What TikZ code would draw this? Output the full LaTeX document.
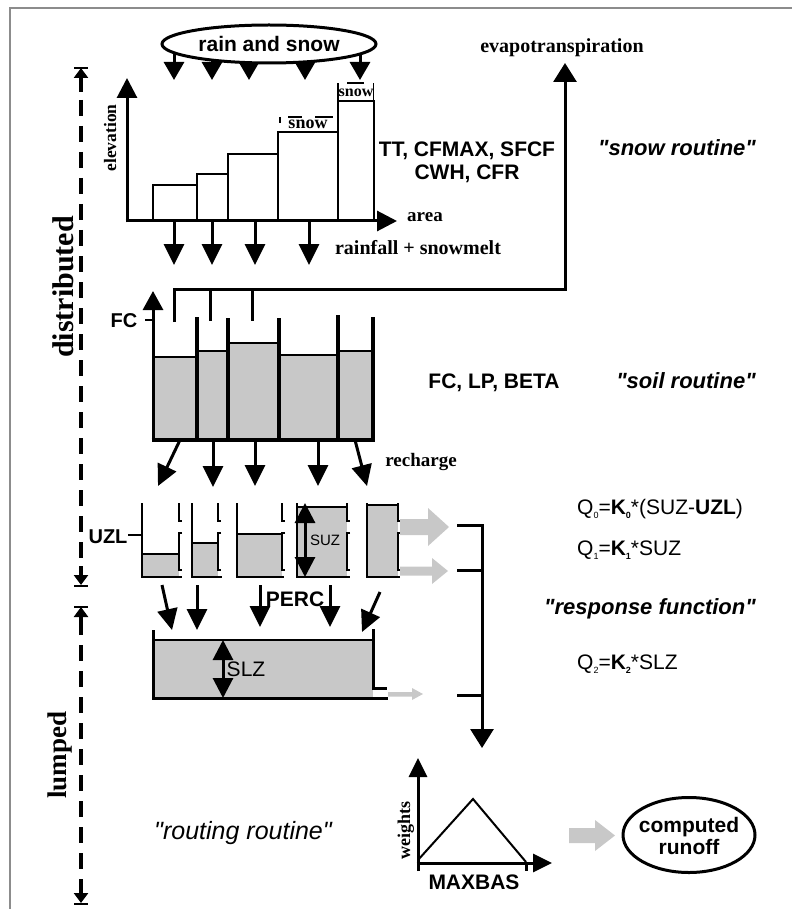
\documentclass[tikz,border=0pt]{standalone}
\usepackage{fontspec}
\setmainfont{Liberation Serif}
\setsansfont{Liberation Sans}[Ligatures=TeXOff]
\usetikzlibrary{arrows.meta,shapes.geometric}
\newcommand\fsz[1]{\fontsize{#1}{#1}\selectfont}
\newcommand\sbs[1]{\raisebox{-3.5pt}{\fsz{9}#1}}
\definecolor{lg}{RGB}{200,200,200}
\definecolor{framegray}{RGB}{140,140,140}
\begin{document}
\begin{tikzpicture}[x=1pt,y=-1pt,
  sb/.style={inner sep=0pt, text height=15pt, text depth=0pt, font=\sffamily\bfseries\fsz{21}},
  sr/.style={inner sep=0pt, text height=15pt, text depth=0pt, font=\sffamily\fsz{21}},
  sbi/.style={inner sep=0pt, text height=15.5pt, text depth=0pt, font=\sffamily\bfseries\itshape\fsz{22}},
  rb/.style={inner sep=0pt, text height=13.6pt, text depth=0pt, font=\rmfamily\bfseries\fsz{20}},
  bigarr/.style={line width=3pt, -{Triangle[width=20pt,length=21pt]}},
  dbl/.style={line width=3pt, {Triangle[width=20pt,length=20pt]}-{Triangle[width=20pt,length=20pt]}},
  thick3/.style={line width=3pt},
  wall/.style={line width=3.3pt},
  uwall/.style={line width=2.6pt},
  barline/.style={line width=1.5pt},
  dax/.style={line width=4.5pt, dash pattern=on 16pt off 10pt},
  smallarr/.style={line width=4pt, -{Triangle[width=14pt,length=10pt]}},
  ovl/.style={draw, line width=3pt, fill=white, ellipse, inner sep=0pt}
]
\useasboundingbox (0,0) rectangle (792,909);
% frame
\draw[framegray, line width=1.5pt] (10,909) -- (10,8) -- (792,8);

% ---------------- left dashed axis ----------------
\draw[line width=2pt] (74,68) -- (88,68);
\draw[smallarr] (81,92) -- (81,68);
\draw[dax] (81,100) -- (81,566);
\draw[smallarr] (81,566) -- (81,585);
\draw[line width=2pt] (74,586) -- (88,586);
\draw[line width=2pt] (74,607) -- (88,607);
\draw[smallarr] (81,635) -- (81,607);
\draw[dax] (81,645) -- (81,882);
\draw[smallarr] (81,882) -- (81,903);
\draw[line width=2pt] (74,904) -- (88,904);
\node[rb, font=\rmfamily\bfseries\fsz{30}, text height=20pt, rotate=90] (distr) at (63,287) {distributed};
\node[rb, font=\rmfamily\bfseries\fsz{27}, text height=18pt, rotate=90] (lump) at (57,755) {lumped};

% ---------------- snow routine ----------------
\foreach \x in {174,212,249,305,360}{
  \draw[line width=3pt, -{Triangle[width=20pt,length=18pt]}] (\x,44) -- (\x,80);
}
\node[ovl, minimum width=214pt, minimum height=38pt] (rs) at (269,44) {};
\node[sb] (rstxt) at (269,44) {rain and snow};

\draw[barline] (153,221) rectangle (197,185);
\draw[barline] (197,221) rectangle (228,174);
\draw[barline] (228,221) rectangle (278,154);
\draw[barline] (278,221) rectangle (338,132);
\draw[barline] (338,221) rectangle (374,101);
\draw[barline] (338,101) -- (338,83);
\draw[barline] (373.5,101) -- (373.5,83);
\draw[line width=1.2pt] (347,83) -- (364,83);
\draw[line width=1.2pt] (280,117) -- (280,123);
\draw[line width=1.2pt] (288,117) -- (302,117) (315,117) -- (333,117);
\node[inner sep=0pt, anchor=base, font=\rmfamily\bfseries\fsz{18}] (snow4) at (308,128.5) {snow};
\node[inner sep=0pt, anchor=base, font=\rmfamily\bfseries\fsz{16}] (snow5) at (356,97) {snow};

\draw[thick3, -{Triangle[width=20pt,length=20pt]}] (127,222.5) -- (127,78);
\draw[thick3, -{Triangle[width=20pt,length=20pt]}] (125.5,221) -- (397,221);
\node[rb, font=\rmfamily\bfseries\fsz{17.5}, text height=12pt, rotate=90] (elev) at (110,138) {elevation};
\node[rb, font=\rmfamily\bfseries\fsz{19}] (area) at (425,215) {area};

\node[sb] (par1) at (467,149.5) {TT, CFMAX, SFCF};
\node[sb] (par2) at (467,172.5) {CWH, CFR};
\node[sbi] (snowr) at (677,148) {"snow routine"};
\node[rb] (evap) at (562,46) {evapotranspiration};

\foreach \x in {174,212,255,309}{
  \draw[bigarr] (\x,221) -- (\x,265);
}
\node[rb] (rfsm) at (418,248) {rainfall + snowmelt};

% ---------------- soil routine ----------------
\fill[lg] (153,440) rectangle (197,357);
\fill[lg] (197,440) rectangle (228,351);
\fill[lg] (228,440) rectangle (279,343);
\fill[lg] (279,440) rectangle (338,355);
\fill[lg] (338,440) rectangle (373,351);
\draw[barline] (153,357) -- (197,357);
\draw[barline] (197,351) -- (228,351);
\draw[barline] (228,343) -- (279,343);
\draw[barline] (279,355) -- (338,355);
\draw[barline] (338,351) -- (373,351);
\draw[wall] (197,317) -- (197,440);
\draw[wall] (228,318) -- (228,440);
\draw[wall] (279,318) -- (279,440);
\draw[wall] (338,315) -- (338,440);
\draw[wall] (373,317) -- (373,441.6);
\draw[wall] (151.5,440) -- (374.6,440);
\draw[thick3, -{Triangle[width=20pt,length=19pt]}] (153,441.6) -- (153,291);
\draw[line width=2pt] (145,320) -- (153,320);
\node[sb, font=\sffamily\bfseries\fsz{20}, text height=14.3pt] (fc) at (124,320) {FC};

\draw[thick3, -{Triangle[width=23pt,length=19pt]}] (174,322) -- (174,289) -- (565,289) -- (565,63);
\draw[thick3] (210,289) -- (210,321);
\draw[thick3] (252,289) -- (252,321);

\node[sb] (fclp) at (494,381) {FC, LP, BETA};
\node[sbi] (soilr) at (686,381) {"soil routine"};

\draw[bigarr] (180,440) -- (158,486);
\draw[bigarr] (213,440) -- (213,487);
\draw[bigarr] (255,440) -- (255,486);
\draw[bigarr] (318,440) -- (318,486);
\draw[bigarr] (355,440) -- (367,486);
\node[rb, font=\rmfamily\bfseries\fsz{19}] (rech) at (421,460) {recharge};

% ---------------- upper zone boxes ----------------
\fill[lg] (142,577) rectangle (179,554);
\fill[lg] (192,577) rectangle (218,543);
\fill[lg] (237,577) rectangle (282,534);
\fill[lg] (297,577) rectangle (347,507);
\fill[lg] (367,577) rectangle (398,505);
\draw[line width=1.2pt] (142,554) -- (179,554);
\draw[line width=1.2pt] (192,543) -- (218,543);
\draw[line width=1.2pt] (237,534) -- (282,534);
\draw[line width=1.2pt] (297,507) -- (347,507);
\draw[line width=1.2pt] (367,505) -- (398,505);
\foreach \xl/\xr/\xb in {142/179/182, 192/218/222, 237/282/284, 297/347/350, 367/398/400}{
  \draw[uwall] (\xl,503) -- (\xl,577) -- (\xb,577);
  \draw[uwall] (\xr,503) -- (\xr,521) -- (\xr+3,521);
  \draw[uwall] (\xr+3,533) -- (\xr,533) -- (\xr,570) -- (\xr+3,570);
}
\draw[line width=2pt] (128,535) -- (142,535);
\node[sb, font=\sffamily\bfseries\fsz{20}, text height=14.3pt] (uzl) at (108,536) {UZL};
\draw[dbl] (305,503) -- (305,577);
\node[sr, font=\sffamily\fsz{15}, text height=10.8pt] (suz) at (325,540) {SUZ};

% gray outflow arrows
\fill[lg] (400,519) -- (428,519) -- (428,508) -- (449,527) -- (428,546) -- (428,535) -- (400,535) -- cycle;
\fill[lg] (400,566.5) -- (432,566.5) -- (432,558) -- (448,571) -- (432,584) -- (432,575.5) -- (400,575.5) -- cycle;

% ---------------- percolation ----------------
\draw[bigarr] (162,585) -- (172,630);
\draw[bigarr] (197,585) -- (197,630);
\draw[bigarr] (260,585) -- (260,627);
\draw[bigarr] (330,585) -- (330,627);
\draw[bigarr] (380,592) -- (362,632);
\node[sb] (perc) at (295,599) {PERC};

% ---------------- lower zone ----------------
\fill[lg] (153,640) rectangle (373,698);
\draw[line width=1.5pt] (153,640) -- (373,640);
\draw[thick3] (153,630) -- (153,698) -- (388,698);
\draw[thick3] (373,629) -- (373,688) -- (387,688);
\fill[lg] (388,692) -- (412,692) -- (412,688) -- (423,694) -- (412,700) -- (412,696.5) -- (388,696.5) -- cycle;
\draw[dbl] (223,640) -- (223,698);
\node[sr] (slz) at (246,669) {SLZ};

% ---------------- response function ----------------
\draw[thick3, -{Triangle[width=23pt,length=19pt]}] (457,525) -- (482,525) -- (482,748);
\draw[thick3] (457,570) -- (482,570);
\draw[thick3] (457,695) -- (482,695);
\node[sr, anchor=west] (q0) at (577,507) {Q\sbs{0}=\textbf{K\sbs{0}}*(SUZ-\textbf{UZL})};
\node[sr, anchor=west] (q1) at (577,548) {Q\sbs{1}=\textbf{K\sbs{1}}*SUZ};
\node[sbi] (respf) at (650,607) {"response function"};
\node[sr, anchor=west] (q2) at (577,662) {Q\sbs{2}=\textbf{K\sbs{2}}*SLZ};

% ---------------- routing ----------------
\draw[thick3, -{Triangle[width=18pt,length=19pt]}] (418,871) -- (418,758);
\draw[thick3, -{Triangle[width=18pt,length=19pt]}] (416.5,863) -- (552,863);
\draw[thick3] (526,863) -- (526,871);
\draw[line width=2pt, line join=miter] (418,860) -- (473,799) -- (526,862);
\node[rb, font=\rmfamily\bfseries\fsz{18}, text height=12pt, rotate=90] (wts) at (404,830) {weights};
\node[sb] (maxbas) at (474,882) {MAXBAS};
\node[inner sep=0pt, font=\sffamily\itshape\fsz{25}, text height=18pt, text depth=0pt] (routr) at (243,830) {"routing routine"};
\fill[lg] (569,828) -- (595,828) -- (595,820) -- (615,835.5) -- (595,851) -- (595,843) -- (569,843) -- cycle;
\node[ovl, minimum width=132pt, minimum height=75pt] (runoff) at (689,835) {};
\node[inner sep=0pt, align=center, font=\sffamily\bfseries\fontsize{21}{22}\selectfont] (runtxt) at (689,836) {computed\\runoff};
\end{tikzpicture}
\end{document}
